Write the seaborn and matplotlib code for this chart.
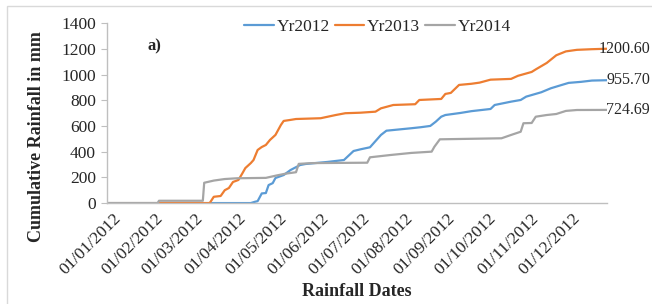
import pandas as pd
import seaborn as sns
import matplotlib.pyplot as plt
import matplotlib.transforms as mtrans
from matplotlib.patches import Rectangle

# -------------------------------------------------------------------
# Data: cumulative rainfall (mm), by day of year
# (all years are plotted on a 2012 date axis)
# -------------------------------------------------------------------
days_2012 = [0, 105, 108, 110, 113, 116, 118, 121, 123, 129, 134, 141, 145, 161, 173,
             180, 185, 192, 200, 204, 222, 229, 236, 240, 244, 247, 258, 266, 280, 283,
             295, 302, 306, 317, 324, 332, 337, 346, 354, 365]
rain_2012 = [0, 0, 10, 15, 75, 78, 140, 155, 195, 218, 257, 296, 304, 320, 335,
             405, 418, 434, 530, 563, 582, 590, 600, 633, 672, 685, 701, 715, 732, 763,
             789, 802, 828, 862, 893, 919, 935, 943, 953, 955.70]

days_2013 = [0, 75, 78, 83, 86, 89, 92, 96, 99, 101, 105, 107, 110, 113, 116, 119,
             123, 127, 129, 134, 138, 156, 167, 174, 185, 196, 200, 209, 225, 228,
             244, 247, 251, 257, 266, 272, 280, 295, 300, 310, 313, 321, 328, 335,
             343, 354, 365]
rain_2013 = [0, 0, 49, 55, 100, 117, 164, 180, 234, 272, 311, 335, 413, 436, 452, 491,
             530, 608, 639, 647, 654, 660, 685, 699, 703, 711, 737, 763, 769, 802,
             810, 849, 857, 919, 928, 937, 960, 966, 990, 1020, 1040, 1090, 1150, 1180,
             1192, 1197, 1200.60]

days_2014 = [0, 37, 38, 70, 71, 78, 86, 95, 116, 124, 130, 138, 140, 150, 190, 192,
             207, 222, 237, 239, 243, 288, 295, 302, 304, 310, 313, 321, 328, 335,
             343, 365]
rain_2014 = [0, 0, 18, 18, 158, 175, 187, 193, 196, 215, 228, 240, 305, 311, 314, 356,
             374, 390, 400, 438, 496, 504, 530, 555, 621, 623, 672, 685, 693, 717,
             724, 724.69]

series_names = ['Yr2012', 'Yr2013', 'Yr2014']
series_colors = ['#5B9BD5', '#ED7D31', '#A5A5A5']
end_labels = ['955.70', '1200.60', '724.69']
tick_dates = pd.date_range('2012-01-01', '2012-12-01', freq='MS')
tick_labels = [d.strftime('%d/%m/%Y') for d in tick_dates]

start = pd.Timestamp('2012-01-01')
frames = []
for name, d, v in zip(series_names, [days_2012, days_2013, days_2014],
                      [rain_2012, rain_2013, rain_2014]):
    frames.append(pd.DataFrame({'Date': start + pd.to_timedelta(d, unit='D'),
                                'Rain': v, 'Year': name}))
df = pd.concat(frames, ignore_index=True)

# -------------------------------------------------------------------
# Plot
# -------------------------------------------------------------------
sns.set_theme(style='white')
plt.rcParams['font.family'] = ['Liberation Serif', 'DejaVu Serif']

fig = plt.figure(figsize=(6.52, 3.04), dpi=100)
# light chart-area border (Excel style)
fig.patches.append(Rectangle((7 / 652, -0.1), 1.2, 1.1 - 6 / 304, transform=fig.transFigure,
                             fill=False, edgecolor='#D9D9D9', linewidth=1))
ax = fig.add_axes([0.164, 0.332, 0.767, 0.592])

sns.lineplot(data=df, x='Date', y='Rain', hue='Year', palette=series_colors,
             estimator=None, sort=False, linewidth=1.6, ax=ax)

ax.set_xlim(pd.Timestamp('2012-01-01'), pd.Timestamp('2012-12-31'))
ax.set_ylim(0, 1400)
ax.set_yticks(range(0, 1401, 200))
ax.set_xticks(tick_dates)
ax.set_xticklabels(tick_labels, rotation=45, ha='right', rotation_mode='anchor')

for s in ['top', 'right']:
    ax.spines[s].set_visible(False)
for s in ['left', 'bottom']:
    ax.spines[s].set_color('#BFBFBF')
    ax.spines[s].set_linewidth(1)

ax.tick_params(axis='y', length=4, width=0.8, color='#BFBFBF', labelsize=12.5, pad=4, left=True)
ax.tick_params(axis='x', length=0, labelsize=12.5, pad=4)
shift = mtrans.ScaledTranslation(6 / 100, -2 / 100, fig.dpi_scale_trans)
for lab in ax.get_xticklabels():
    lab.set_transform(lab.get_transform() + shift)

ax.set_xlabel('Rainfall Dates', fontsize=13, fontweight='bold', va='center')
ax.set_ylabel('Cumulative Rainfall in mm', fontsize=13, fontweight='bold')
ax.yaxis.set_label_coords(-0.124, 0.37)
ax.xaxis.set_label_coords(0.5, -0.494)

# end-of-year data labels (kept inside the right edge)
for name, lab in zip(series_names, end_labels):
    last = df[df['Year'] == name].iloc[-1]
    ax.annotate(lab, xy=(1.0, last['Rain']), xycoords=('figure fraction', 'data'),
                xytext=(-1.5, 0), textcoords='offset points', ha='right', va='center',
                fontsize=11.5, annotation_clip=False)

ax.text(0.095, 0.87, 'a)', transform=ax.transAxes, fontsize=12, fontweight='bold',
        ha='center', va='center')

ax.legend(loc='center', bbox_to_anchor=(0.579, 0.911), bbox_transform=fig.transFigure,
          ncol=3, frameon=False, fontsize=12.5, handlelength=1.7, handletextpad=0.15,
          columnspacing=0.3, title=None)

fig.savefig('out.png', dpi=100)
